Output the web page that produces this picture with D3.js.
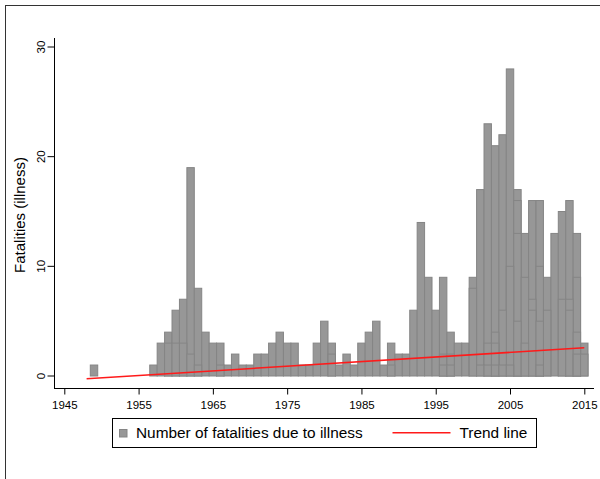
<!DOCTYPE html>
<html>
<head>
<meta charset="utf-8">
<script src="https://cdn.jsdelivr.net/npm/d3@7/dist/d3.min.js"></script>
<style>
html,body{margin:0;padding:0;background:#fff;}
svg{display:block;font-family:"Liberation Sans",Arial,Helvetica,sans-serif;}
</style>
</head>
<body>
<svg id="chart" width="600" height="479"></svg>
<script>
// ---- data ----
const years = d3.range(1949, 2016);
const fatalities = [
  1, 0, 0, 0, 0, 0, 0, 0, 1, 3,          // 1949-1958
  4, 6, 7, 19, 8, 4, 3, 3, 1, 2,         // 1959-1968
  1, 1, 2, 2, 3, 4, 3, 3, 1, 1,          // 1969-1978
  3, 5, 3, 1, 2, 1, 3, 4, 5, 1,          // 1979-1988
  3, 2, 2, 6, 14, 9, 6, 9, 4, 3,         // 1989-1998
  3, 9, 17, 23, 21, 22, 28, 17, 13, 16,  // 1999-2008
  16, 9, 13, 15, 16, 13, 3               // 2009-2015
];
// overlapping sub-series bars (same style) visible as inner outlines
const subYears  = [1959,1960,1961,1962,1963,1966,1981,1989,1996,1996,1997,1997,2000,2001,2002,2002,2003,2003,2003,2004,2004,2005,2005,2006,2006,2006,2007,2007,2008,2008,2009,2009,2009,2010,2012,2013,2013,2014,2014,2014,2015];
const subValues = [3,   3,   3,   2,   1,   1,   2,   1,   2,   1,   2,   1,   8,   1,   3,   1,   4,   3,   1,   6,   1,   10,  1,   16,  13,  5,   9,   3,   7,   6,   10,  5,   1,   6,   7,   7,   6,   9,   4,   2,   2];
const trendYears  = [1948, 2015];
const trendValues = [-0.25, 2.58];
const xTicks = [1945, 1955, 1965, 1975, 1985, 1995, 2005, 2015];
const yTicks = [0, 10, 20, 30];
const seriesLabel = "Number of fatalities due to illness";
const trendLabel = "Trend line";
const yTitle = "Fatalities (illness)";

// ---- drawing ----
const svg = d3.select("#chart");
const x = d3.scaleLinear().domain([1945, 2015]).range([64.3, 584.3]);
const y = d3.scaleLinear().domain([0, 30]).range([376, 47]);
const bw = x(1946) - x(1945);
const barFill = "#979797", barStroke = "#858585";

// outer frame
svg.append("rect").attr("x", 5.5).attr("y", 5.5).attr("width", 620).attr("height", 500)
  .attr("fill", "none").attr("stroke", "#333").attr("stroke-width", 1);

const bars = years.map((yr, i) => ({year: yr, value: fatalities[i]})).filter(d => d.value > 0);
svg.append("g").selectAll("rect").data(bars).join("rect")
  .attr("x", d => x(d.year) - bw / 2)
  .attr("y", d => y(d.value))
  .attr("width", bw)
  .attr("height", d => y(0) - y(d.value))
  .attr("fill", barFill).attr("stroke", barStroke).attr("stroke-width", 1);

const subs = subYears.map((yr, i) => ({year: yr, value: subValues[i]}))
  .sort((a, b) => b.value - a.value);
svg.append("g").selectAll("rect").data(subs).join("rect")
  .attr("x", d => x(d.year) - bw / 2)
  .attr("y", d => y(d.value))
  .attr("width", bw)
  .attr("height", d => y(0) - y(d.value))
  .attr("fill", barFill).attr("stroke", barStroke).attr("stroke-width", 1);

// trend line
const line = d3.line().x(d => x(d[0])).y(d => y(d[1]));
svg.append("path").datum(trendYears.map((yr, i) => [yr, trendValues[i]]))
  .attr("d", line).attr("fill", "none").attr("stroke", "#ff1a1a").attr("stroke-width", 1.6);

// axes
const xAxisG = svg.append("g").attr("transform", "translate(0,388.5)")
  .call(d3.axisBottom(x).tickValues(xTicks).tickFormat(d3.format("d")).tickSize(6).tickSizeOuter(0));
xAxisG.select(".domain").attr("d", "M54,0H594").attr("stroke", "#000");
xAxisG.selectAll("text").attr("font-size", "11.5px").attr("fill", "#000").attr("dy", "0.71em").attr("y", 12)
  .attr("font-family", "'Liberation Sans',Arial,sans-serif");

const yAxisG = svg.append("g").attr("transform", "translate(54.5,0)")
  .call(d3.axisLeft(y).tickValues(yTicks).tickSize(7).tickSizeOuter(0));
yAxisG.select(".domain").attr("d", "M0,38V388.5").attr("stroke", "#000");
yAxisG.selectAll("text").attr("font-size", "11.5px").attr("fill", "#000")
  .attr("font-family", "'Liberation Sans',Arial,sans-serif")
  .attr("transform", "rotate(-90)")
  .attr("x", 0).attr("y", -10).attr("dy", 0)
  .attr("text-anchor", "middle")
  .each(function(d) { d3.select(this).attr("transform", `translate(-10,${y(d)}) rotate(-90)`).attr("x", 0).attr("y", 0).attr("dy", "0"); });
yAxisG.selectAll(".tick").attr("transform", "translate(0,0)");
yAxisG.selectAll(".tick line").attr("y1", d => y(d)).attr("y2", d => y(d));
yAxisG.selectAll(".tick text").attr("transform", d => `translate(-10,${y(d)}) rotate(-90)`);

svg.append("text").attr("transform", "translate(24.5,215) rotate(-90)")
  .attr("text-anchor", "middle").attr("font-size", "15px").attr("fill", "#000").text(yTitle);

// legend
const lg = svg.append("g");
lg.append("rect").attr("x", 112.5).attr("y", 418.5).attr("width", 424).attr("height", 29)
  .attr("fill", "#fff").attr("stroke", "#000").attr("stroke-width", 1);
lg.append("rect").attr("x", 119.5).attr("y", 429.5).attr("width", 7.5).attr("height", 7.5)
  .attr("fill", barFill).attr("stroke", barStroke);
lg.append("text").attr("x", 136).attr("y", 438).attr("font-size", "15.4px").attr("fill", "#000").text(seriesLabel);
lg.append("line").attr("x1", 392.5).attr("x2", 450.5).attr("y1", 432.7).attr("y2", 432.7)
  .attr("stroke", "#ff1a1a").attr("stroke-width", 1.6);
lg.append("text").attr("x", 459.5).attr("y", 438).attr("font-size", "15.4px").attr("fill", "#000").text(trendLabel);
</script>
</body>
</html>
